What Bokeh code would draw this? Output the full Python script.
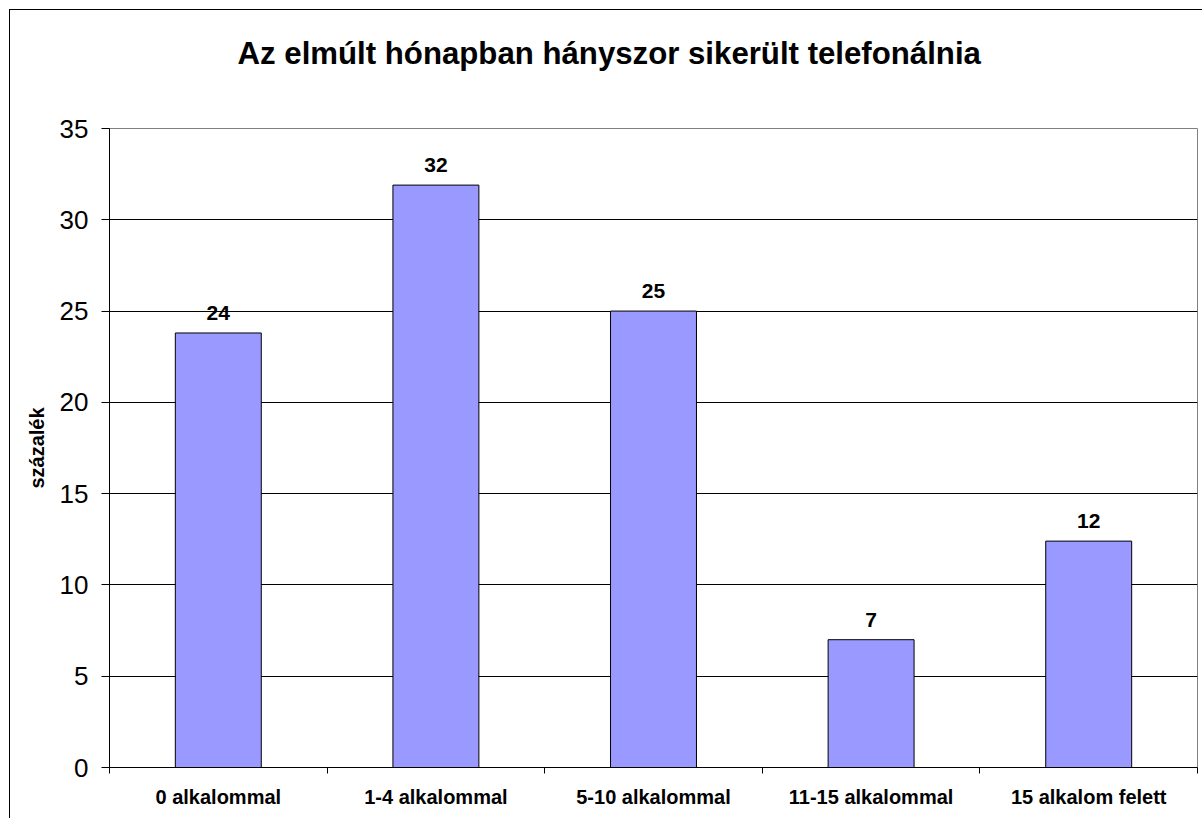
from bokeh.plotting import figure
from bokeh.models import ColumnDataSource, Range1d, FixedTicker, Title
from bokeh.embed import file_html
from bokeh.resources import INLINE

title_text = "Az elmúlt hónapban hányszor sikerült telefonálnia"
categories = ["0 alkalommal", "1-4 alkalommal", "5-10 alkalommal", "11-15 alkalommal", "15 alkalom felett"]
values = [23.8, 31.9, 25.0, 7.0, 12.4]
y_ticks = [0, 5, 10, 15, 20, 25, 30, 35]
y_label = "százalék"

FONT = "Liberation Sans"

xpos = [i + 0.5 for i in range(len(categories))]
labels = [str(int(round(v))) for v in values]
src = ColumnDataSource(dict(x=xpos, top=values, label=labels))

p = figure(width=1193, height=809, output_backend="svg", toolbar_location=None,
           x_range=Range1d(0, len(categories)), y_range=Range1d(y_ticks[0], y_ticks[-1]),
           min_border_left=99, min_border_right=6, min_border_top=118, min_border_bottom=52,
           title=None)
p.styles = {"margin-left": "9px", "margin-top": "9px",
            "border-left": "1px solid #000", "border-top": "1px solid #000"}
p.background_fill_color = "white"
p.border_fill_color = "white"
p.outline_line_color = "#808080"
p.outline_line_width = 1

p.vbar(x="x", top="top", width=0.395, bottom=0, source=src,
       fill_color="#9999FF", line_color="#000000", line_width=1)

p.text(x="x", y="top", text="label", source=src, text_align="center", text_baseline="alphabetic",
       y_offset=-20, text_font_size="21px", text_font_style="bold", text_color="#000000",
       text_font={"value": FONT})

# grid
p.xgrid.grid_line_color = None
p.ygrid.ticker = FixedTicker(ticks=y_ticks)
p.ygrid.grid_line_color = "#000000"
p.ygrid.grid_line_width = 1

# y axis
ya = p.yaxis[0]
ya.ticker = FixedTicker(ticks=y_ticks)
ya.major_tick_out = 8
ya.major_tick_in = 0
ya.minor_tick_line_color = None
ya.major_label_standoff = 13
ya.major_label_text_font = FONT
ya.major_label_text_font_size = "26px"
ya.major_label_text_color = "#000000"
ya.axis_line_color = "#000000"
ya.major_tick_line_color = "#000000"
ya.axis_label = y_label
ya.axis_label_text_font = FONT
ya.axis_label_text_font_size = "20px"
ya.axis_label_text_font_style = "bold"
ya.axis_label_text_color = "#000000"
ya.axis_label_standoff = 9

# x axis
xa = p.xaxis[0]
xa.ticker = FixedTicker(ticks=xpos, minor_ticks=list(range(len(categories) + 1)))
xa.major_label_overrides = {x: c for x, c in zip(xpos, categories)}
xa.major_tick_line_color = None
xa.major_tick_out = 0
xa.major_tick_in = 0
xa.minor_tick_line_color = "#000000"
xa.minor_tick_out = 6
xa.minor_tick_in = 0
xa.axis_line_color = "#000000"
xa.major_label_standoff = 12
xa.major_label_text_font = FONT
xa.major_label_text_font_size = "20px"
xa.major_label_text_font_style = "bold"
xa.major_label_text_color = "#000000"

# spacer between title and plot area, then the title above it
p.add_layout(Title(text=" ", text_font_size="10px", standoff=43), "above")
p.add_layout(Title(text=title_text, align="left", offset=128, vertical_align="top", standoff=0,
                   text_font=FONT, text_font_size="31.2px", text_font_style="bold",
                   text_color="#000000"), "above")

open("out.html", "w").write(file_html(p, INLINE))
